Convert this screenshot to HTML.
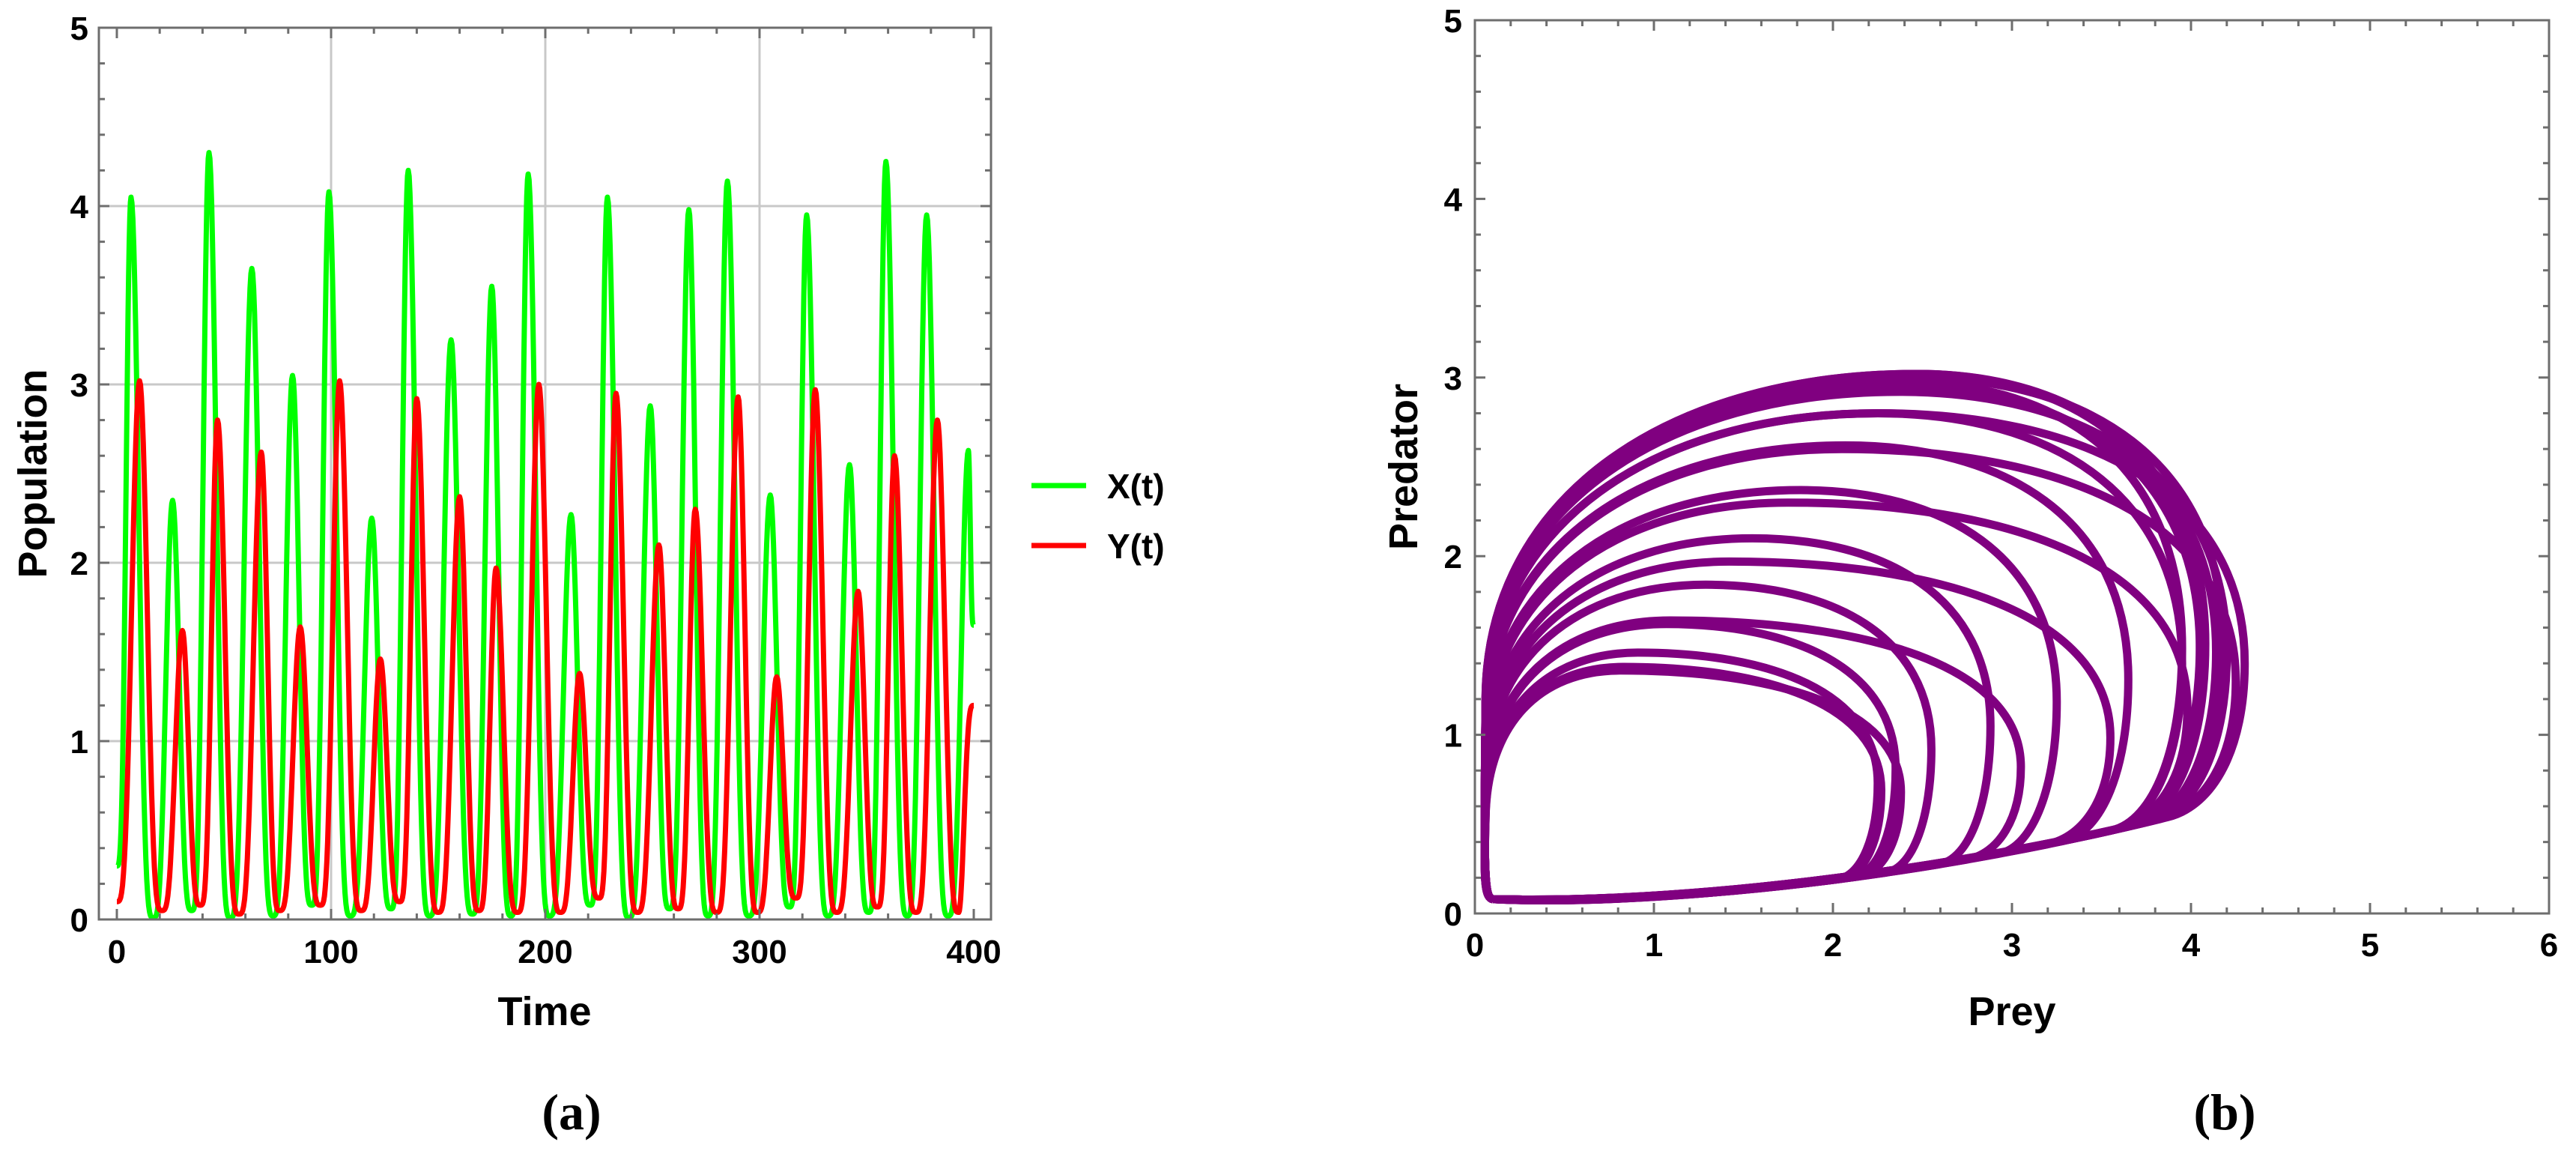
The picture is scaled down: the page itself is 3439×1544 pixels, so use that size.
<!DOCTYPE html>
<html><head><meta charset="utf-8"><style>
html,body{margin:0;padding:0;background:#fff;}
svg{display:block;}
text{font-family:"Liberation Sans",Arial,sans-serif;font-weight:bold;fill:#000;}
</style></head><body>
<svg id="fig" width="3439" height="1544" viewBox="0 0 3439 1544" xmlns="http://www.w3.org/2000/svg">
<g id="pa"></g>
<g id="pb"></g>
</svg>
<script>
// ---- data ----
const xPeakT = [6.6,26,43,63,82,99,119,136,156,175,192,212,229,249,267,285,305,322,342,359,378,397.5];
const xPeakV = [4.05,2.35,4.3,3.65,3.05,4.08,2.25,4.2,3.25,3.55,4.18,2.27,4.05,2.88,3.98,4.14,2.38,3.95,2.55,4.25,3.95,2.63];
const xTroughT = [17,35,53,73,91,109,128,146,166,184,202,221,239,258,276,295,314,332,351,369,388];
const xTroughV = [0.01,0.05,0.01,0.02,0.08,0.02,0.06,0.02,0.03,0.02,0.02,0.08,0.01,0.06,0.02,0.02,0.07,0.02,0.04,0.02,0.02];
const xStart = [0,0.3];
const xEnd = [400,1.65];
const yPeakT = [10.6,30.6,47,67.4,85.6,104,123,140,160,177,197,216,233,253,270,290,308,326,346,363,383];
const yPeakV = [3.02,1.62,2.8,2.62,1.64,3.02,1.46,2.92,2.37,1.97,3.0,1.38,2.95,2.1,2.3,2.93,1.36,2.97,1.84,2.6,2.8];
const yTroughT = [21,39,57,76,95,114,132,150,169,187,207,225,243,262,280,299,317,336,355,373,393];
const yTroughV = [0.05,0.08,0.03,0.05,0.08,0.05,0.1,0.04,0.05,0.04,0.04,0.12,0.04,0.06,0.04,0.04,0.12,0.04,0.07,0.04,0.04];
const yStart = [0,0.1];
const yEnd = [400,1.2];
const timeTicks = [0,100,200,300,400];
const popTicks = [0,1,2,3,4,5];
const preyTicks = [0,1,2,3,4,5,6];
const predTicks = [0,1,2,3,4,5];

const NS="http://www.w3.org/2000/svg";
function mk(parent,tag,attrs){const e=document.createElementNS(NS,tag);for(const k in attrs)e.setAttribute(k,attrs[k]);parent.appendChild(e);return e;}

// ---- panel A axes ----
const A={l:132,r:1323,t:37,b:1227};
const ax=t=>156+t*2.86;
const ay=v=>1227-v*238;
const pa=document.getElementById('pa');
[1,2,3,4].forEach(v=>{const g=mk(pa,'line',{x1:A.l,x2:A.r,y1:ay(v),y2:ay(v),stroke:'#c8c8c8','stroke-width':3});

});
[100,200,300].forEach(v=>{const g=mk(pa,'line',{x1:ax(v),x2:ax(v),y1:A.t,y2:A.b,stroke:'#c8c8c8','stroke-width':3});

});

function series(start,pT,pV,tT,tV,end){
  const pts=[start];
  for(let i=0;i<pT.length;i++){pts.push([pT[i],pV[i],1]);if(i<tT.length)pts.push([tT[i],tV[i],0]);}
  pts.push(end);
  let d='';
  for(let i=0;i<pts.length-1;i++){
    const a=pts[i],b=pts[i+1];
    const peakIsB=(b[2]===1);
    const lo=peakIsB?a:b, hi=peakIsB?b:a;
    for(let k=0;k<=24;k++){
      const s=k/24;const t=a[0]+(b[0]-a[0])*s;
      let u=peakIsB?s:1-s;
      const g=Math.pow((1-Math.cos(Math.PI*u))/2,1.8);
      const v=lo[1]+(hi[1]-lo[1])*g;
      d+=(d?'L':'M')+ax(t).toFixed(1)+','+ay(v).toFixed(1);
    }
  }
  return d;
}
const gClip=mk(pa,'clipPath',{id:'ca'});mk(gClip,'rect',{x:A.l,y:A.t-10,width:A.r-A.l,height:A.b-A.t+10});
const gx=mk(pa,'path',{d:series(xStart,xPeakT,xPeakV,xTroughT,xTroughV,xEnd),fill:'none',stroke:'#00ff00','stroke-width':7,'stroke-linejoin':'round','clip-path':'url(#ca)'});


const gy=mk(pa,'path',{d:series(yStart,yPeakT,yPeakV,yTroughT,yTroughV,yEnd),fill:'none',stroke:'#ff0000','stroke-width':7,'stroke-linejoin':'round','clip-path':'url(#ca)'});



function frame(p,F,xs,ys,xMajor,xMinorStep,yMajor,yMinorStep,xmax,ymax){
  const fr=mk(p,'rect',{x:F.l,y:F.t,width:F.r-F.l,height:F.b-F.t,fill:'none',stroke:'#6e6e6e','stroke-width':3});
  
  
  for(let v=0;v<=xmax+1e-6;v+=xMinorStep){const X=xs(v);if(X<F.l-1||X>F.r+1)continue;
    const maj=xMajor.some(m=>Math.abs(m-v)<1e-6);const L=maj?14:8;
    mk(p,'line',{x1:X,x2:X,y1:F.b,y2:F.b-L,stroke:'#6e6e6e','stroke-width':3});
    mk(p,'line',{x1:X,x2:X,y1:F.t,y2:F.t+L,stroke:'#6e6e6e','stroke-width':3});}
  for(let v=0;v<=ymax+1e-6;v+=yMinorStep){const Y=ys(v);
    const maj=yMajor.some(m=>Math.abs(m-v)<1e-6);const L=maj?14:8;
    mk(p,'line',{x1:F.l,x2:F.l+L,y1:Y,y2:Y,stroke:'#6e6e6e','stroke-width':3});
    mk(p,'line',{x1:F.r,x2:F.r-L,y1:Y,y2:Y,stroke:'#6e6e6e','stroke-width':3});}
}
frame(pa,A,ax,ay,timeTicks,20,popTicks,0.2,400,5);
timeTicks.forEach(v=>{const t=mk(pa,'text',{x:ax(v),y:1285,'font-size':44,'text-anchor':'middle'});t.textContent=v;

});
popTicks.forEach(v=>{const t=mk(pa,'text',{x:118,y:ay(v)+16,'font-size':44,'text-anchor':'end'});t.textContent=v;

});
</script>
<script>
(function(){
const pa=document.getElementById('pa');const NS="http://www.w3.org/2000/svg";
function mk(parent,tag,attrs){const e=document.createElementNS(NS,tag);for(const k in attrs)e.setAttribute(k,attrs[k]);parent.appendChild(e);return e;}
let t=mk(pa,'text',{x:727,y:1368,'font-size':54,'text-anchor':'middle'});t.textContent='Time';


t=mk(pa,'text',{x:0,y:0,'font-size':54,'text-anchor':'middle',transform:'translate(62,632) rotate(-90)'});t.textContent='Population';


t=mk(pa,'text',{x:763,y:1507,'font-size':68,'text-anchor':'middle',style:'font-family:"Liberation Serif",serif'});t.textContent='(a)';


const le=[['#00ff00','X(t)',648],['#ff0000','Y(t)',728]];
le.forEach(e=>{const g=mk(pa,'g',{});


mk(g,'line',{x1:1377,x2:1450,y1:e[2],y2:e[2],stroke:e[0],'stroke-width':7});
const tx=mk(g,'text',{x:1478,y:e[2]+17,'font-size':46});tx.textContent=e[1];});
})();
</script>
<script>
// ---- panel B: phase portrait (loops built from the same peak data) ----
const B={l:1969,r:3403,t:27,b:1219};
const bx=v=>1969+v*239;
const by=v=>1219-v*238.4;
const pb=document.getElementById('pb');
function loopPath(Xm,Ym){
  const yb=x=>0.06+0.032*x*x;
  const P=(x,y)=>bx(x).toFixed(1)+','+by(y).toFixed(1);
  const Tx=Math.max(0.6,Ym-0.55);
  const ax_=Xm*0.9, ay_=yb(ax_);
  const sl=0.064*ax_;           // slope of bottom branch at A
  const Ry=Math.max(ay_+0.25,Ym*0.5);
  let d='M'+P(0.1,0.08);
  d+=' C'+P(ax_*0.35,0.05)+' '+P(ax_*0.75,ay_-sl*ax_*0.25)+' '+P(ax_,ay_);
  const k=(Xm-ax_)*0.6;
  d+=' C'+P(ax_+k,ay_+sl*k)+' '+P(Xm,Ry-(Ry-ay_)*0.55)+' '+P(Xm,Ry);
  d+=' C'+P(Xm,Ry+(Ym-Ry)*0.7)+' '+P(Tx+(Xm-Tx)*0.55,Ym)+' '+P(Tx,Ym);
  d+=' C'+P(Tx*0.45,Ym)+' '+P(0.07,Ym*0.78)+' '+P(0.06,Ym*0.4);
  d+=' C'+P(0.05,0.2)+' '+P(0.05,0.09)+' '+P(0.1,0.08);
  return d;
}
for(let i=0;i<yPeakV.length;i++){
  const p=mk(pb,'path',{d:loopPath(xPeakV[i],yPeakV[i]),fill:'none',stroke:'#800080','stroke-width':11,'stroke-linejoin':'round'});
  
  
}
frame(pb,B,bx,by,preyTicks,0.2,predTicks,0.2,6,5);
preyTicks.forEach(v=>{const t=mk(pb,'text',{x:bx(v),y:1276,'font-size':44,'text-anchor':'middle'});t.textContent=v;

});
predTicks.forEach(v=>{const t=mk(pb,'text',{x:1952,y:by(v)+16,'font-size':44,'text-anchor':'end'});t.textContent=v;

});
let tb=mk(pb,'text',{x:2686,y:1368,'font-size':54,'text-anchor':'middle'});tb.textContent='Prey';


tb=mk(pb,'text',{x:0,y:0,'font-size':54,'text-anchor':'middle',transform:'translate(1892,623) rotate(-90)'});tb.textContent='Predator';


tb=mk(pb,'text',{x:2970,y:1507,'font-size':68,'text-anchor':'middle',style:'font-family:"Liberation Serif",serif'});tb.textContent='(b)';


</script>
</body></html>
